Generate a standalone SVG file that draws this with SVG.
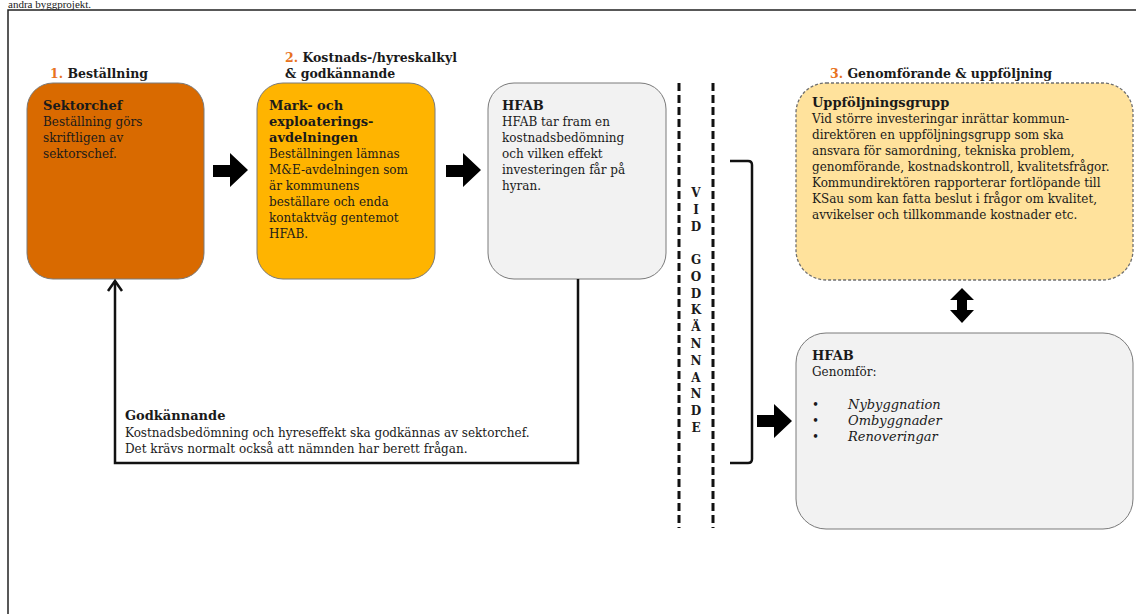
<svg xmlns="http://www.w3.org/2000/svg" width="1136" height="614" viewBox="0 0 1136 614">
<style>
text{font-family:"DejaVu Serif","Liberation Serif",serif;fill:#1a1a1a}
.t{font-size:12px}
.b{font-size:13px;font-weight:bold}
.h{font-size:12.5px;font-weight:bold}
.n{fill:#E8731E}
.i{font-size:13px;font-style:italic}
.v{font-size:12px;font-weight:bold;text-anchor:middle}
.box{stroke:#7a7a7a;stroke-width:1}
.grey{fill:#F2F2F2}
.conn{fill:none;stroke:#111;stroke-width:2.5}
.dash{fill:none;stroke:#111;stroke-width:3;stroke-dasharray:8 4}
.arr{fill:#000}
</style>
<rect x="0" y="0" width="1136" height="614" fill="#fff"/>
<text x="8" y="8" style="font-family:'Liberation Serif',serif;font-size:11px">andra byggprojekt.</text>
<path d="M8,614 V10 H1136" fill="none" stroke="#222" stroke-width="1.5"/>

<g id="headers">
<text class="h" x="50" y="78"><tspan class="n">1.</tspan> Beställning</text>
<text class="h" x="285" y="62"><tspan class="n">2.</tspan> Kostnads-/hyreskalkyl</text>
<text class="h" x="285" y="78">&amp; godkännande</text>
<text class="h" x="830" y="78"><tspan class="n">3.</tspan> Genomförande &amp; uppföljning</text>
</g>

<g id="sektorchef">
<rect class="box" x="27" y="83" width="177" height="196" rx="26" fill="#D96A00"/>
<text class="b" x="43" y="110">Sektorchef</text>
<text class="t" x="43" y="126">Beställning görs</text>
<text class="t" x="43" y="142">skriftligen av</text>
<text class="t" x="43" y="158">sektorschef.</text>
</g>

<g id="mark">
<rect class="box" x="257" y="83" width="178" height="196" rx="26" fill="#FFB400"/>
<text class="b" x="269" y="110">Mark- och</text>
<text class="b" x="269" y="126">exploaterings-</text>
<text class="b" x="269" y="142">avdelningen</text>
<text class="t" x="269" y="158">Beställningen lämnas</text>
<text class="t" x="269" y="174">M&amp;E-avdelningen som</text>
<text class="t" x="269" y="190">är kommunens</text>
<text class="t" x="269" y="206">beställare och enda</text>
<text class="t" x="269" y="222">kontaktväg gentemot</text>
<text class="t" x="269" y="238">HFAB.</text>
</g>

<g id="hfab1">
<rect class="box grey" x="488" y="83" width="178" height="196" rx="26"/>
<text class="b" x="502" y="110">HFAB</text>
<text class="t" x="502" y="126">HFAB tar fram en</text>
<text class="t" x="502" y="142">kostnadsbedömning</text>
<text class="t" x="502" y="158">och vilken effekt</text>
<text class="t" x="502" y="174">investeringen får på</text>
<text class="t" x="502" y="190">hyran.</text>
</g>

<g id="uppfoljning">
<rect x="796" y="83" width="337" height="197" rx="30" fill="#FFE29C" stroke="#6f6f6f" stroke-width="1.3" stroke-dasharray="3 2"/>
<text class="b" x="812" y="107">Uppföljningsgrupp</text>
<text class="t" x="812" y="123">Vid större investeringar inrättar kommun-</text>
<text class="t" x="812" y="139">direktören en uppföljningsgrupp  som ska</text>
<text class="t" x="812" y="155">ansvara för samordning, tekniska problem,</text>
<text class="t" x="812" y="171">genomförande, kostnadskontroll, kvalitetsfrågor.</text>
<text class="t" x="812" y="187">Kommundirektören rapporterar fortlöpande till</text>
<text class="t" x="812" y="203">KSau som kan fatta beslut i frågor om kvalitet,</text>
<text class="t" x="812" y="219">avvikelser och tillkommande kostnader etc.</text>
</g>

<g id="hfab2">
<rect class="box grey" x="796" y="333" width="337" height="196" rx="30"/>
<text class="b" x="812" y="360">HFAB</text>
<text class="t" x="812" y="376">Genomför:</text>
<text class="t" x="812" y="409">•</text>
<text class="t" x="812" y="425">•</text>
<text class="t" x="812" y="441">•</text>
<text class="i" x="848" y="409">Nybyggnation</text>
<text class="i" x="848" y="425">Ombyggnader</text>
<text class="i" x="848" y="441">Renoveringar</text>
</g>

<g id="godkannande-label">
<text class="b" x="125" y="420">Godkännande</text>
<text class="t" x="125" y="437">Kostnadsbedömning och hyreseffekt ska godkännas av sektorchef.</text>
<text class="t" x="125" y="453">Det krävs normalt också att nämnden har berett frågan.</text>
</g>

<g id="vid-godkannande">
<text class="v" x="696" y="197">V</text>
<text class="v" x="696" y="214">I</text>
<text class="v" x="696" y="231">D</text>
<text class="v" x="696" y="264">G</text>
<text class="v" x="696" y="281">O</text>
<text class="v" x="696" y="298">D</text>
<text class="v" x="696" y="314">K</text>
<text class="v" x="696" y="331">Ä</text>
<text class="v" x="696" y="348">N</text>
<text class="v" x="696" y="365">N</text>
<text class="v" x="696" y="382">A</text>
<text class="v" x="696" y="398">N</text>
<text class="v" x="696" y="415">D</text>
<text class="v" x="696" y="432">E</text>
</g>

<g id="connectors">
<polygon class="arr" points="213,165 230,165 230,153 248,170 230,187 230,177 213,177"/>
<polygon class="arr" points="446,165 463,165 463,153 481,170 463,187 463,177 446,177"/>
<polygon class="arr" points="757,415 774,415 774,404 792,421 774,438 774,427 757,427"/>
<polygon class="arr" points="962,288 974,300 967,300 967,310 974,310 962,323 950,310 957,310 957,300 950,300"/>
<path class="conn" d="M578,279 V463 H115 V281"/>
<polyline class="conn" points="108,291 115,281 122,291"/>
<line class="dash" x1="679" y1="83" x2="679" y2="528"/>
<line class="dash" x1="713" y1="83" x2="713" y2="528"/>
<path class="conn" d="M730,161 H748 Q752,161 752,165 V459 Q752,463 748,463 H730"/>
</g>
</svg>
